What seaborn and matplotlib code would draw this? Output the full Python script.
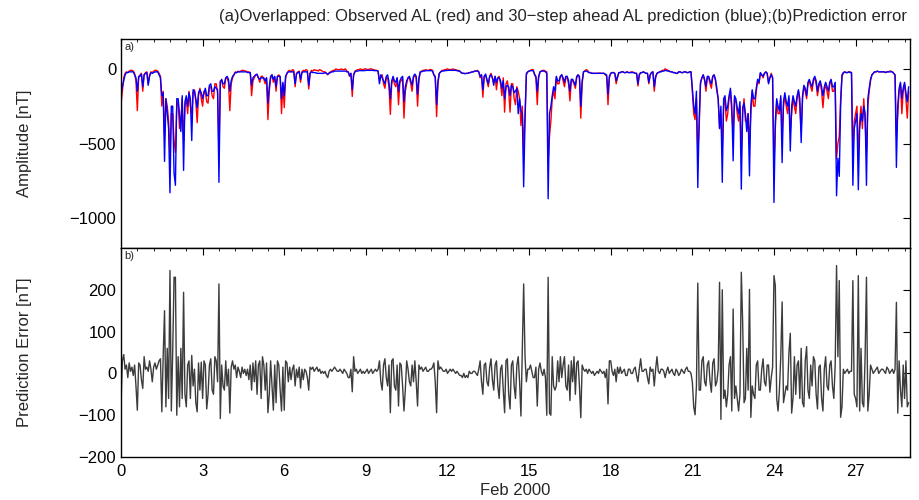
import numpy as np
import matplotlib
matplotlib.use("Agg")
import matplotlib.pyplot as plt
import seaborn as sns
from matplotlib.ticker import MultipleLocator

# ---- data (0.05 day steps, one row per day, Feb 2000) ----
step = 0.05

observed_al = [
    -240, -150, -60, -30, -20, -25, -15, -10, -10, -15, -30, -80, -280, -60, -40, -30, -150, -40, -25, -20,
    -100, -40, -20, -25, -15, -10, -10, -15, -30, -50, -250, -150, -450, -200, -250, -350, -580, -300, -300, -480,
    -560, -250, -220, -400, -350, -200, -480, -250, -200, -300, -150, -250, -300, -160, -140, -220, -360, -180, -130, -200,
    -250, -150, -150, -220, -230, -120, -120, -180, -200, -100, -100, -160, -550, -80, -80, -120, -130, -60, -60, -90,
    -280, -100, -60, -40, -20, -25, -15, -20, -15, -10, -10, -15, -15, -20, -20, -25, -180, -80, -60, -40,
    -40, -60, -90, -50, -50, -70, -100, -60, -340, -150, -60, -40, -90, -60, -150, -50, -40, -60, -300, -100,
    -260, -60, -30, -15, -10, -20, -5, -10, -120, -30, -20, -15, -90, -20, -10, -15, -5, -10, -135, -30,
    -10, -15, -5, -10, -10, -15, -5, -10, -15, -20, -20, -30, -40, -25, -20, -15, -10, -10, 0, -5,
    -5, -5, 0, -5, -5, 0, -15, -20, -50, -30, -185, -40, -15, -10, -5, -5, 0, -5, -5, 0,
    0, -5, -5, 0, 0, -5, -5, -10, -10, -15, -80, -50, -40, -100, -130, -60, -60, -120, -305, -100,
    -60, -100, -120, -60, -240, -90, -80, -60, -330, -150, -100, -60, -60, -100, -150, -60, -40, -60, -250, -80,
    -20, -15, -10, -10, -5, -10, -10, -5, -5, -10, -40, -60, -320, -100, -30, -20, -10, -10, -5, -5,
    0, -5, -5, -5, 0, -5, -5, -10, -10, -15, -25, -30, -30, -32, -30, -30, -25, -25, -20, -20,
    -15, -15, -10, -20, -60, -40, -190, -50, -40, -80, -120, -50, -30, -60, -90, -50, -140, -60, -50, -100,
    -180, -60, -290, -100, -80, -150, -290, -100, -100, -200, -240, -120, -150, -200, -380, -250, -560, -300, -40, -20,
    -15, -10, -5, -5, -40, -60, -240, -60, -20, -15, -10, -10, -15, -20, -620, -450, -350, -200, -150, -200,
    -60, -100, -100, -50, -40, -80, -120, -60, -60, -100, -215, -80, -80, -100, -130, -60, -40, -60, -330, -100,
    -20, -15, -5, -10, -25, -25, -30, -30, -30, -30, -30, -30, -28, -30, -30, -30, -40, -50, -240, -60,
    -30, -25, -25, -30, -100, -60, -25, -25, -20, -20, -25, -25, -20, -25, -25, -20, -20, -25, -30, -30,
    -115, -40, -25, -25, -20, -25, -30, -30, -100, -40, -25, -20, -150, -60, -30, -25, -20, -15, -10, -10,
    0, -5, -10, -15, -20, -20, -25, -25, -30, -30, -20, -20, -25, -25, -20, -20, -25, -25, -20, -20,
    -150, -300, -340, -200, -560, -400, -100, -60, -40, -80, -150, -60, -60, -100, -130, -50, -40, -80, -150, -200,
    -400, -300, -540, -250, -200, -350, -300, -200, -150, -300, -420, -200, -220, -300, -350, -250, -560, -300, -200, -350,
    -350, -300, -500, -300, -150, -250, -250, -150, -80, -100, -30, -40, -60, -30, -20, -30, -90, -60, -30, -60,
    -650, -400, -220, -300, -300, -200, -450, -250, -180, -250, -300, -200, -420, -300, -200, -250, -300, -200, -150, -250,
    -420, -200, -120, -150, -200, -100, -80, -120, -150, -80, -60, -100, -180, -120, -90, -150, -260, -150, -100, -150,
    -200, -100, -80, -150, -150, -100, -600, -500, -450, -200, -50, -30, -20, -25, -25, -20, -20, -25, -560, -350,
    -300, -250, -580, -350, -250, -400, -200, -350, -560, -250, -150, -80, -40, -30, -20, -20, -15, -20, -20, -20,
    -20, -20, -25, -20, -20, -15, -15, -20, -30, -40, -450, -300, -150, -100, -300, -150, -100, -200, -330, -150,
]

predicted_al = [
    -170, -120, -80, -40, -25, -25, -20, -20, -20, -20, -40, -60, -150, -50, -50, -35, -120, -40, -30, -25,
    -110, -50, -25, -30, -25, -20, -20, -20, -40, -60, -180, -160, -620, -200, -300, -400, -830, -250, -250, -700,
    -780, -200, -200, -300, -420, -180, -680, -220, -180, -250, -160, -200, -480, -140, -150, -200, -260, -160, -140, -160,
    -200, -160, -130, -180, -180, -110, -100, -150, -150, -120, -130, -140, -760, -90, -70, -100, -100, -60, -50, -70,
    -150, -80, -50, -40, -25, -25, -20, -20, -20, -20, -20, -20, -20, -25, -25, -25, -110, -60, -50, -40,
    -35, -60, -70, -60, -60, -60, -80, -60, -230, -120, -50, -40, -70, -50, -120, -50, -50, -50, -200, -90,
    -180, -50, -30, -20, -20, -20, -20, -20, -100, -35, -25, -20, -70, -25, -20, -20, -20, -20, -110, -30,
    -20, -25, -25, -25, -30, -30, -30, -30, -30, -30, -25, -30, -35, -30, -25, -20, -20, -15, -15, -15,
    -15, -15, -15, -15, -15, -15, -20, -20, -45, -30, -140, -40, -20, -15, -15, -12, -12, -12, -12, -12,
    -10, -10, -10, -10, -10, -10, -12, -12, -12, -15, -100, -40, -60, -80, -100, -50, -40, -90, -200, -80,
    -50, -80, -90, -60, -150, -80, -60, -50, -220, -120, -80, -60, -50, -80, -110, -50, -35, -50, -170, -60,
    -20, -20, -15, -15, -12, -12, -12, -12, -12, -15, -40, -50, -240, -80, -30, -20, -15, -15, -12, -12,
    -10, -10, -10, -10, -10, -10, -10, -12, -15, -15, -25, -30, -30, -32, -30, -30, -25, -25, -20, -20,
    -15, -15, -15, -20, -50, -40, -140, -50, -35, -70, -100, -50, -40, -60, -110, -50, -90, -60, -60, -80,
    -130, -80, -200, -120, -110, -120, -180, -110, -120, -160, -150, -130, -300, -200, -280, -300, -790, -350, -30, -20,
    -15, -12, -12, -12, -35, -50, -150, -50, -20, -15, -15, -15, -20, -30, -870, -300, -250, -180, -120, -150,
    -50, -80, -80, -50, -40, -60, -90, -50, -50, -80, -150, -70, -70, -90, -110, -50, -40, -50, -250, -80,
    -20, -15, -15, -20, -25, -25, -30, -30, -30, -30, -30, -30, -30, -30, -30, -30, -35, -40, -170, -50,
    -30, -25, -25, -30, -80, -50, -25, -25, -20, -20, -25, -25, -20, -25, -25, -25, -25, -25, -30, -30,
    -100, -40, -25, -25, -20, -25, -30, -30, -90, -40, -25, -20, -120, -50, -30, -25, -20, -20, -15, -15,
    -10, -12, -15, -15, -20, -20, -25, -25, -30, -30, -20, -20, -25, -25, -20, -20, -25, -25, -20, -20,
    -130, -250, -300, -150, -795, -350, -90, -60, -40, -70, -120, -50, -50, -80, -100, -50, -40, -70, -130, -200,
    -400, -250, -760, -200, -180, -280, -250, -180, -130, -250, -616, -180, -200, -260, -300, -220, -806, -260, -230, -300,
    -420, -300, -717, -250, -140, -200, -200, -130, -70, -90, -25, -40, -50, -30, -20, -30, -100, -60, -40, -60,
    -895, -350, -200, -250, -280, -180, -628, -220, -160, -220, -250, -180, -550, -250, -180, -220, -250, -180, -140, -200,
    -494, -180, -110, -130, -180, -90, -70, -100, -120, -70, -50, -80, -150, -100, -80, -120, -180, -120, -90, -120,
    -150, -90, -70, -120, -120, -90, -850, -600, -720, -250, -40, -25, -20, -25, -25, -20, -25, -25, -780, -400,
    -350, -300, -810, -400, -300, -350, -250, -300, -780, -200, -130, -70, -40, -30, -20, -20, -15, -20, -20, -20,
    -20, -20, -25, -20, -20, -20, -20, -20, -30, -40, -660, -250, -130, -90, -200, -130, -90, -160, -220, -120,
]

prediction_error = [
    -75, 30, 45, 10, 20, -10, 25, 5, 15, -5, 20, -30, -88, 25, 20, -15, -36, 40, 10, 15,
    5, 30, 10, -20, 15, 25, 10, 20, 30, 35, -92, 40, 150, -80, 60, -60, 246, -90, 50, 230,
    230, -100, 40, -80, 60, -60, 194, -50, -80, 20, 30, -60, 43, -30, 10, -70, -92, 25, -40, 27,
    -60, 30, 20, -85, -50, 20, 35, -40, -50, 40, 30, -20, 214, -108, 20, -30, -40, 30, -30, 10,
    -95, 15, 30, 10, 20, -10, 15, 5, -10, 15, 0, 10, -5, 10, -15, 20, -40, 25, -20, 30,
    -50, 20, 30, -60, 40, 20, -40, 25, -94, -50, 30, -30, -88, 20, -70, 30, 20, -40, -90, 15,
    -88, 30, 25, -20, 15, -15, 10, 20, -30, 10, -10, 15, -35, 10, -15, 10, 5, -10, -40, 15,
    10, 15, 5, 10, 15, 5, 10, 0, 5, 0, 5, -5, -10, 5, 10, 5, 10, 15, 10, 5,
    5, 10, 5, 0, 10, 5, 0, -10, -10, 10, -44, 40, 5, 10, 0, 5, 10, 0, 5, 0,
    5, 10, 0, 5, 10, 0, 5, 10, 5, 10, 30, -20, -40, 20, 35, -10, -30, 20, -94, 30,
    35, -30, -40, 20, -78, 25, 20, -30, -90, -40, 30, 10, -20, -30, 20, -20, 30, -20, -78, 20,
    10, 15, 5, 10, 15, 5, 5, 10, 10, 15, 25, -20, -94, 30, 10, 15, 10, 5, 5, 10,
    0, 5, 10, 5, 10, 5, 0, 5, 0, -5, -5, -10, 0, -10, -5, -10, 5, 0, 0, 5,
    5, 0, -5, 10, 30, -20, -50, 20, 25, -20, -30, 15, 35, -15, -40, 20, 30, -30, -60, 10,
    20, -40, -94, 30, 35, -50, -85, 20, 30, -30, -60, 20, 40, -20, -102, 50, 214, 40, -20, 10,
    10, 20, 5, -10, -10, 15, -78, 10, 25, 5, -5, 10, -10, -100, 230, -95, -100, 40, -30, -40,
    -30, 30, -20, 40, -10, 20, 40, -30, -40, 20, -65, 30, -20, 40, -50, 25, 30, -30, -106, 20,
    10, 5, 10, 0, 10, 5, 0, 5, -5, 0, 5, 0, 10, 5, 0, 5, -10, 10, -73, 30,
    30, 5, -5, 10, -20, 15, 0, 15, 0, 5, 10, -5, -5, 10, 10, 0, 0, 10, 15, -5,
    -20, 10, 35, 5, 5, 10, 10, -10, -25, 15, 5, 10, -30, 10, 40, 5, 0, 10, 10, 5,
    -10, 5, 15, 0, 5, 10, 0, -5, 10, 5, -5, 0, 10, 5, 0, 10, 15, 5, 5, 0,
    -20, -80, -99, -30, 216, -40, -40, 30, 40, -20, -30, 20, 30, -20, -45, 25, 35, -30, -20, 10,
    218, -110, 200, -60, -40, -80, -50, 20, 40, -90, 154, -60, -30, -60, -90, -50, 242, 120, -70, -60,
    60, -40, 201, -105, -30, -50, -60, 20, 30, -40, -40, 10, 35, -20, -30, 20, 20, -45, -10, 15,
    234, 210, -60, -90, -40, 40, 171, -70, -50, -30, -40, 50, 96, -95, -60, 40, -50, 20, 30, -60,
    60, -70, -80, 30, 64, -40, -60, 20, -30, 40, 30, -50, -85, 15, 20, -60, -90, 10, 40, -30,
    -40, 20, 30, -30, -60, 20, 258, 40, 222, -105, -80, 10, 0, 5, 10, 0, 5, 5, 222, -50,
    -60, -80, 234, -90, 60, -70, -80, 40, 230, -90, -50, 20, 10, 0, 5, 10, 15, 0, 5, 10,
    10, 5, 0, 15, 10, 0, 5, 10, 0, 10, 170, -95, 30, -40, -80, 20, -60, 30, -80, -70,
]

days = np.arange(len(observed_al)) * step

sns.set_theme(style="white")
plt.rcParams["font.family"] = ["Liberation Sans Narrow", "Liberation Sans", "DejaVu Sans"]
plt.rcParams["axes.edgecolor"] = "black"
plt.rcParams["axes.linewidth"] = 1.0

fig = plt.figure(figsize=(9.19, 5.0), dpi=100)
ax1 = fig.add_axes([121 / 919, 1 - 248 / 500, (910 - 121) / 919, (248 - 39) / 500])
ax2 = fig.add_axes([121 / 919, 1 - 457 / 500, (910 - 121) / 919, (457 - 248) / 500])

sns.lineplot(x=days, y=observed_al, ax=ax1, color="red", lw=1.0)
sns.lineplot(x=days, y=predicted_al, ax=ax1, color="blue", lw=1.0)
sns.lineplot(x=days, y=prediction_error, ax=ax2, color="#3c3c3c", lw=1.0)

ax1.set_ylim(-1200, 200)
ax1.set_yticks([-1000, -500, 0])
ax2.set_ylim(-200, 300)
ax2.set_yticks([-200, -100, 0, 100, 200])

for ax in (ax1, ax2):
    ax.set_xlim(0, 29)
    ax.xaxis.set_major_locator(MultipleLocator(3))
    ax.xaxis.set_minor_locator(MultipleLocator(0.6))
    ax.tick_params(which="both", direction="in", top=True, right=True,
                   labelsize=12, colors="black")
    ax.tick_params(which="major", length=5, width=0.8)
    ax.tick_params(which="minor", length=2.5, width=0.6)
    ax.tick_params(axis="x", pad=5)
    for s in ax.spines.values():
        s.set_visible(True)
        s.set_color("black")

ax1.tick_params(labelbottom=False)
ax1.set_ylabel("Amplitude [nT]", fontsize=12)
ax2.set_ylabel("Prediction Error [nT]", fontsize=12)
ax2.set_xlabel("Feb 2000", fontsize=12, labelpad=3)
ax1.yaxis.set_label_coords(-0.113, 0.5)
ax2.yaxis.set_label_coords(-0.113, 0.5)

ax1.text(0.004, 0.985, "a)", transform=ax1.transAxes, fontsize=8, va="top", ha="left")
ax2.text(0.004, 0.985, "b)", transform=ax2.transAxes, fontsize=8, va="top", ha="left")

fig.text(563 / 919, 1 - 17 / 500,
         "(a)Overlapped: Observed AL (red) and 30\u2212step ahead AL prediction (blue);(b)Prediction error",
         ha="center", va="center", fontsize=12)

fig.savefig("out.png", dpi=100)
